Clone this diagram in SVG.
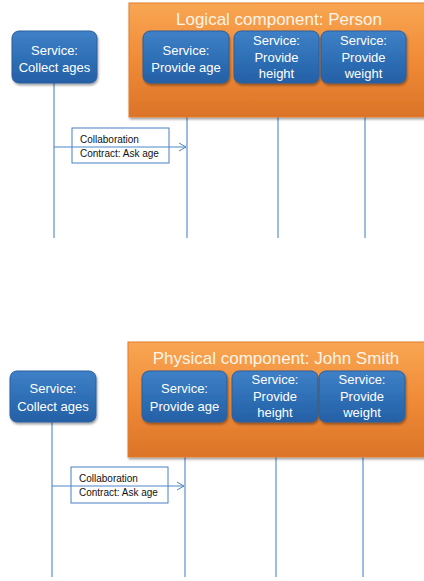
<svg xmlns="http://www.w3.org/2000/svg" width="424" height="581" viewBox="0 0 424 581">
<defs>
<linearGradient id="gOr" x1="0" y1="0" x2="0" y2="1">
<stop offset="0" stop-color="#f8a653"/>
<stop offset="0.5" stop-color="#f08b37"/>
<stop offset="1" stop-color="#db7428"/>
</linearGradient>
<linearGradient id="gBl" x1="0" y1="0" x2="0" y2="1">
<stop offset="0" stop-color="#3f80c6"/>
<stop offset="0.5" stop-color="#2f70b6"/>
<stop offset="1" stop-color="#2560a6"/>
</linearGradient>
<filter id="sh" x="-10%" y="-10%" width="130%" height="140%">
<feDropShadow dx="1" dy="2" stdDeviation="1.2" flood-color="#000" flood-opacity="0.35"/>
</filter>
<marker id="arr" markerWidth="10" markerHeight="10" refX="8" refY="5" orient="auto" markerUnits="userSpaceOnUse">
<path d="M1,1 L8,5 L1,9" fill="none" stroke="#4f86c6" stroke-width="1"/>
</marker>
</defs>
<style>
.cont{fill:url(#gOr);stroke:#e27c2c;stroke-width:1;filter:url(#sh)}
.svc{fill:url(#gBl);stroke:#2a5f9e;stroke-width:1;filter:url(#sh)}
.st{font-family:"Liberation Sans",Arial,sans-serif;font-size:13px;fill:#ffffff;text-anchor:middle}
.tt{font-family:"Liberation Sans",Arial,sans-serif;font-size:17px;fill:#fff4e8;text-anchor:middle}
.ll{stroke:#5b8fd0;stroke-width:1.2;fill:none}
.cb{fill:#ffffff;stroke:#4a7fc4;stroke-width:1}
.ct{font-family:"Liberation Sans",Arial,sans-serif;font-size:10px;fill:#111111}
.msg{stroke:#4f86c6;stroke-width:1;fill:none;marker-end:url(#arr)}
</style>

<g id="connectors">
<line class="ll" x1="54" y1="83" x2="54" y2="238"/>
<line class="ll" x1="187" y1="83" x2="187" y2="238"/>
<line class="ll" x1="278" y1="83" x2="278" y2="238"/>
<line class="ll" x1="365" y1="83" x2="365" y2="238"/>
<line class="ll" x1="52" y1="422" x2="52" y2="577"/>
<line class="ll" x1="185" y1="422" x2="185" y2="577"/>
<line class="ll" x1="276" y1="422" x2="276" y2="577"/>
<line class="ll" x1="363" y1="422" x2="363" y2="577"/>
</g>

<g id="logical-component">
<rect class="cont" x="129" y="3" width="300" height="114"/>
<text class="tt" x="279" y="25">Logical component: Person</text>
</g>
<g id="collect-ages-1">
<rect class="svc" x="12" y="31" width="85" height="52" rx="7"/>
<text class="st" x="54.5" y="55">Service:</text>
<text class="st" x="54.5" y="72">Collect ages</text>
</g>
<g id="provide-age-1">
<rect class="svc" x="143" y="31" width="86" height="52" rx="7"/>
<text class="st" x="186" y="55">Service:</text>
<text class="st" x="186" y="72">Provide age</text>
</g>
<g id="provide-height-1">
<rect class="svc" x="234" y="31" width="85" height="52" rx="7"/>
<text class="st" x="276.5" y="45">Service:</text>
<text class="st" x="276.5" y="62">Provide</text>
<text class="st" x="276.5" y="78">height</text>
</g>
<g id="provide-weight-1">
<rect class="svc" x="321" y="31" width="85" height="52" rx="7"/>
<text class="st" x="363.5" y="45">Service:</text>
<text class="st" x="363.5" y="62">Provide</text>
<text class="st" x="363.5" y="78">weight</text>
</g>
<g id="collab-1">
<rect class="cb" x="72" y="128" width="97" height="35"/>
<line class="msg" x1="54" y1="147" x2="186" y2="147"/>
<text class="ct" x="80" y="143">Collaboration</text>
<text class="ct" x="80" y="157">Contract: Ask age</text>
</g>

<g id="physical-component">
<rect class="cont" x="128" y="342" width="300" height="115"/>
<text class="tt" x="276" y="364">Physical component: John Smith</text>
</g>
<g id="collect-ages-2">
<rect class="svc" x="10" y="371" width="86" height="51" rx="7"/>
<text class="st" x="53" y="393">Service:</text>
<text class="st" x="53" y="411">Collect ages</text>
</g>
<g id="provide-age-2">
<rect class="svc" x="142" y="371" width="85" height="51" rx="7"/>
<text class="st" x="184.5" y="393">Service:</text>
<text class="st" x="184.5" y="411">Provide age</text>
</g>
<g id="provide-height-2">
<rect class="svc" x="232" y="371" width="86" height="51" rx="7"/>
<text class="st" x="275" y="384">Service:</text>
<text class="st" x="275" y="401">Provide</text>
<text class="st" x="275" y="417">height</text>
</g>
<g id="provide-weight-2">
<rect class="svc" x="319" y="371" width="86" height="51" rx="7"/>
<text class="st" x="362" y="384">Service:</text>
<text class="st" x="362" y="401">Provide</text>
<text class="st" x="362" y="417">weight</text>
</g>
<g id="collab-2">
<rect class="cb" x="71" y="467" width="97" height="36"/>
<line class="msg" x1="52" y1="486" x2="184" y2="486"/>
<text class="ct" x="79" y="482">Collaboration</text>
<text class="ct" x="79" y="496">Contract: Ask age</text>
</g>
</svg>
